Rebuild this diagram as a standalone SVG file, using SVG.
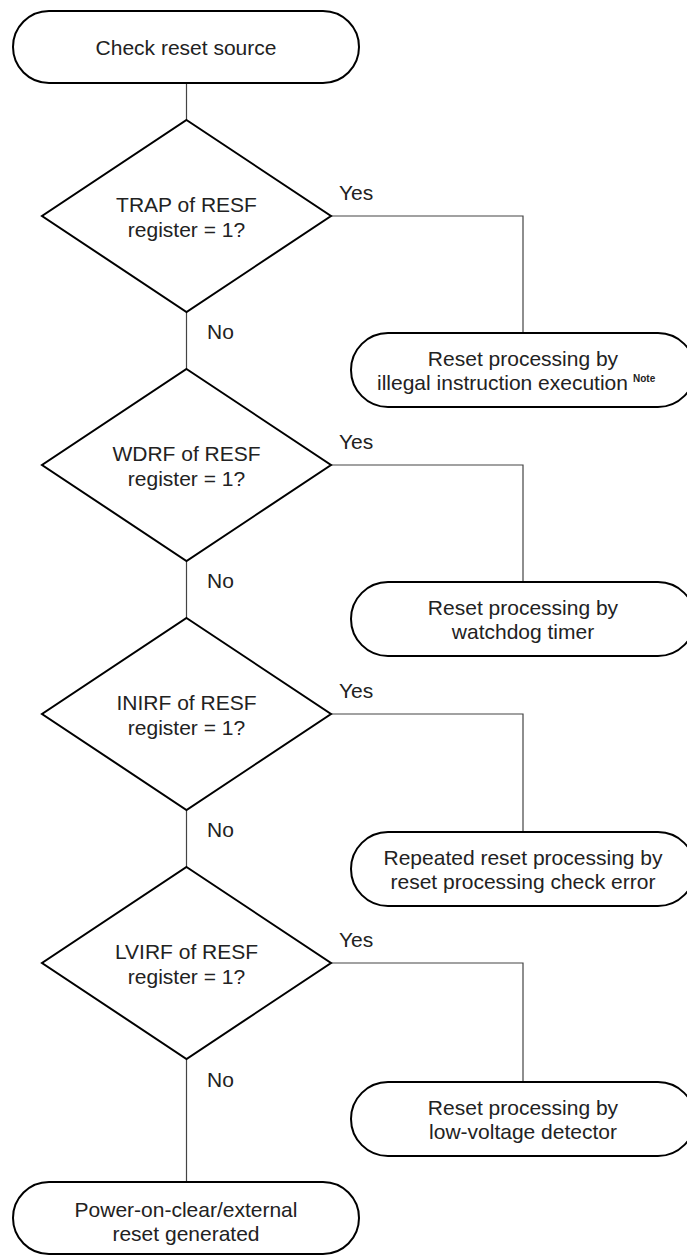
<svg xmlns="http://www.w3.org/2000/svg" width="687" height="1255" viewBox="0 0 687 1255">
<style>
.term{fill:#fff;stroke:#000;stroke-width:2}
.dec{fill:#fff;stroke:#000;stroke-width:2;stroke-linejoin:miter}
.conn{fill:none;stroke:#444;stroke-width:1.2}
text{font-family:"Liberation Sans",Arial,sans-serif;font-size:21px;fill:#222}
.c{text-anchor:middle}
.note{font-size:10px;font-weight:bold}
</style>
<rect width="687" height="1255" fill="#fff"/>
<g id="connectors">
<path class="conn" d="M186.5 83V120"/>
<path class="conn" d="M186.5 312V369"/>
<path class="conn" d="M186.5 561V618"/>
<path class="conn" d="M186.5 810V867"/>
<path class="conn" d="M186.5 1059V1182"/>
<path class="conn" d="M331 216H523V333"/>
<path class="conn" d="M331 465H523V582"/>
<path class="conn" d="M331 714H523V832"/>
<path class="conn" d="M331 963H523V1082"/>
<text x="339" y="200">Yes</text>
<text x="339" y="449">Yes</text>
<text x="339" y="698">Yes</text>
<text x="339" y="947">Yes</text>
<text x="207" y="339">No</text>
<text x="207" y="588">No</text>
<text x="207" y="837">No</text>
<text x="207" y="1087">No</text>
</g>
<g id="start">
<rect class="term" x="13" y="11" width="346" height="72" rx="36"/>
<text class="c" x="186" y="55">Check reset source</text>
</g>
<g id="d1">
<polygon class="dec" points="186.5,120 331,216 186.5,312 42,216"/>
<text class="c" x="186.5" y="212">TRAP of RESF</text>
<text class="c" x="186.5" y="237">register = 1?</text>
</g>
<g id="t1">
<rect class="term" x="351" y="333" width="344" height="74" rx="37"/>
<text class="c" x="523" y="366">Reset processing by</text>
<text x="377" y="390">illegal instruction execution</text>
<text class="note" x="633" y="382">Note</text>
</g>
<g id="d2">
<polygon class="dec" points="186.5,369 331,465 186.5,561 42,465"/>
<text class="c" x="186.5" y="461">WDRF of RESF</text>
<text class="c" x="186.5" y="486">register = 1?</text>
</g>
<g id="t2">
<rect class="term" x="351" y="582" width="344" height="74" rx="37"/>
<text class="c" x="523" y="615">Reset processing by</text>
<text class="c" x="523" y="639">watchdog timer</text>
</g>
<g id="d3">
<polygon class="dec" points="186.5,618 331,714 186.5,810 42,714"/>
<text class="c" x="186.5" y="710">INIRF of RESF</text>
<text class="c" x="186.5" y="735">register = 1?</text>
</g>
<g id="t3">
<rect class="term" x="351" y="832" width="344" height="74" rx="37"/>
<text class="c" x="523" y="865">Repeated reset processing by</text>
<text class="c" x="523" y="889">reset processing check error</text>
</g>
<g id="d4">
<polygon class="dec" points="186.5,867 331,963 186.5,1059 42,963"/>
<text class="c" x="186.5" y="959">LVIRF of RESF</text>
<text class="c" x="186.5" y="984">register = 1?</text>
</g>
<g id="t4">
<rect class="term" x="351" y="1082" width="344" height="74" rx="37"/>
<text class="c" x="523" y="1115">Reset processing by</text>
<text class="c" x="523" y="1139">low-voltage detector</text>
</g>
<g id="end">
<rect class="term" x="13" y="1182" width="346" height="72" rx="36"/>
<text class="c" x="186" y="1217">Power-on-clear/external</text>
<text class="c" x="186" y="1241">reset generated</text>
</g>
</svg>
